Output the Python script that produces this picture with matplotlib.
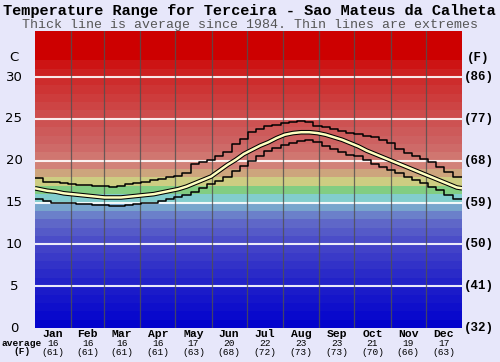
import numpy as np
import matplotlib
matplotlib.use("Agg")
import matplotlib.pyplot as plt

months = ["Jan", "Feb", "Mar", "Apr", "May", "Jun", "Jul", "Aug", "Sep", "Oct", "Nov", "Dec"]
month_days = [31, 28, 31, 30, 31, 30, 31, 31, 30, 31, 30, 31]
month_avg_c = [16, 16, 16, 16, 17, 20, 22, 23, 23, 21, 19, 17]
month_avg_f = [61, 61, 61, 61, 63, 68, 72, 73, 73, 70, 66, 63]

yticks_c = [0, 5, 10, 15, 20, 25, 30]
yticks_f = ["(32)", "(41)", "(50)", "(59)", "(68)", "(77)", "(86)"]

# weekly values (52 weeks)
max_week = [17.9, 17.5, 17.4, 17.3,
            17.2, 17.1, 17.1, 17.0,
            17.0, 16.9, 17.0, 17.2, 17.3,
            17.5, 17.7, 17.8, 18.0,
            18.2, 18.5, 19.6, 19.9, 20.1,
            20.6, 21.0, 22.0, 22.6,
            23.4, 23.8, 24.2, 24.3,
            24.5, 24.6, 24.7, 24.6, 24.2,
            24.0, 23.8, 23.6, 23.3,
            23.2, 23.0, 22.8, 22.5,
            22.1, 21.4, 20.9, 20.5,
            20.2, 19.8, 19.3, 18.7, 18.1]
min_week = [15.4, 15.2, 15.0, 14.9,
            14.9, 14.8, 14.8, 14.7,
            14.7, 14.6, 14.6, 14.7, 14.8,
            14.9, 15.0, 15.2, 15.4,
            15.6, 15.9, 16.3, 16.7, 17.2,
            17.6, 18.1, 18.8, 19.4,
            20.0, 20.6, 21.1, 21.5,
            21.9, 22.1, 22.3, 22.5, 22.2,
            21.8, 21.4, 21.0, 20.7,
            20.5, 20.1, 19.6, 19.2,
            18.9, 18.5, 18.1, 17.7,
            17.3, 16.9, 16.5, 15.9, 15.4]
avg_days = [0, 3.5, 10.5, 17.5, 24.5, 31.5, 38.5, 45.5, 52.5, 59.5, 66.5, 73.5, 80.5,
            87.5, 94.5, 101.5, 108.5, 115.5, 122.5, 129.5, 136.5, 143.5, 150.5,
            157.5, 164.5, 171.5, 178.5, 185.5, 192.5, 199.5, 206.5, 213.5, 220.5,
            227.5, 234.5, 241.5, 248.5, 255.5, 262.5, 269.5, 276.5, 283.5, 290.5,
            297.5, 304.5, 311.5, 318.5, 325.5, 332.5, 339.5, 346.5, 353.5, 360.5, 365]
avg_vals = [16.7, 16.6, 16.4, 16.3, 16.1, 16.0, 15.9, 15.8, 15.7, 15.6, 15.6, 15.6, 15.7,
            15.8, 15.9, 16.0, 16.2, 16.4, 16.6, 16.9, 17.3, 17.7, 18.1,
            18.8, 19.5, 20.1, 20.8, 21.3, 21.8, 22.2, 22.7, 23.1, 23.3,
            23.4, 23.4, 23.3, 23.1, 22.8, 22.5, 22.1, 21.7, 21.2, 20.8,
            20.4, 20.0, 19.6, 19.2, 18.8, 18.4, 18.0, 17.6, 17.2, 16.8, 16.7]

bg = (0.906, 0.906, 0.98)
fig = plt.figure(figsize=(5.0, 3.62), dpi=100, facecolor=bg)
ax = fig.add_axes([35/500, 1-328/362, 427/500, (328-31)/362])
ax.set_xlim(0, 365)
ax.set_ylim(0, 35.5)

# background bands
anch_v = [0, 5, 10, 13, 14.5, 15.5, 16.5, 17.5, 18.5, 19.5, 22, 26, 30, 31.5, 32.5, 36]
anch_c = [(0, 0, 205), (30, 30, 200), (70, 70, 200), (100, 110, 200), (120, 165, 205),
          (130, 205, 205), (130, 205, 130), (205, 205, 130), (205, 165, 125), (210, 130, 120),
          (205, 100, 100), (205, 72, 72), (205, 40, 40), (205, 20, 20), (205, 0, 0), (205, 0, 0)]
anch_c = np.array(anch_c) / 255.0
for b in range(36):
    c = [np.interp(b + 0.5, anch_v, anch_c[:, k]) for k in range(3)]
    ax.axhspan(b, b + 1, color=c, lw=0, zorder=0)

for yv in yticks_c[1:]:
    ax.axhline(yv, color="white", lw=1.5, alpha=0.9, zorder=1)
edges = np.concatenate([[0], np.cumsum(month_days)])
for e in edges[1:-1]:
    ax.axvline(e, color="#505050", lw=0.9, alpha=0.8, zorder=1)

wx = np.append(np.arange(52) * 7, 365)
ax.step(wx, np.append(max_week, max_week[-1]), where="post", color="black", lw=1.1, zorder=3)
ax.step(wx, np.append(min_week, min_week[-1]), where="post", color="black", lw=1.1, zorder=3)
ax.plot(avg_days, avg_vals, color="black", lw=3.3, zorder=4, solid_capstyle="butt")
ax.plot(avg_days, avg_vals, color="#FFFFC0", lw=1.8, zorder=5, solid_capstyle="butt")

ax.set_xticks([])
ax.set_yticks([])
for s in ax.spines.values():
    s.set_visible(False)

for yv in yticks_c:
    ax.text(-18, yv, str(yv), ha="center", va="center", fontsize=9.5,
            family="DejaVu Sans", color="black", clip_on=False)
ax.text(-18, 32.3, "C", ha="center", va="center", fontsize=9.5, family="DejaVu Sans", clip_on=False)
for yv, lab in zip(yticks_c, yticks_f):
    ax.text(379, yv, lab, ha="center", va="center", fontsize=9, family="Liberation Mono",
            weight="bold", clip_on=False)
ax.text(379, 32.3, "(F)", ha="center", va="center", fontsize=9, family="Liberation Mono",
        weight="bold", clip_on=False)

centers = edges[:-1] + np.array(month_days) / 2
for cx, m, c, f in zip(centers, months, month_avg_c, month_avg_f):
    ax.text(cx, -0.72, m, ha="center", va="center", fontsize=8.2, family="Liberation Mono",
            weight="bold", clip_on=False)
    ax.text(cx, -1.8, str(c), ha="center", va="center", fontsize=6.8, family="Liberation Mono",
            clip_on=False)
    ax.text(cx, -2.88, "(%d)" % f, ha="center", va="center", fontsize=6.8, family="Liberation Mono",
            clip_on=False)
fig.text(22/500, 1-343/362, "average", ha="center", va="center", fontsize=6.8,
         family="Liberation Mono", weight="bold")
fig.text(22/500, 1-352/362, "(F)", ha="center", va="center", fontsize=6.8,
         family="Liberation Mono", weight="bold")

fig.text(3/500, 1-11/362, "Temperature Range for Terceira - Sao Mateus da Calheta",
         ha="left", va="center", fontsize=11, family="Liberation Mono", weight="bold")
fig.text(250/500, 1-25/362, "Thick line is average since 1984. Thin lines are extremes",
         ha="center", va="center", fontsize=9.5, family="Liberation Mono", color="#555555")

fig.savefig("out.png", dpi=100, facecolor=bg)
